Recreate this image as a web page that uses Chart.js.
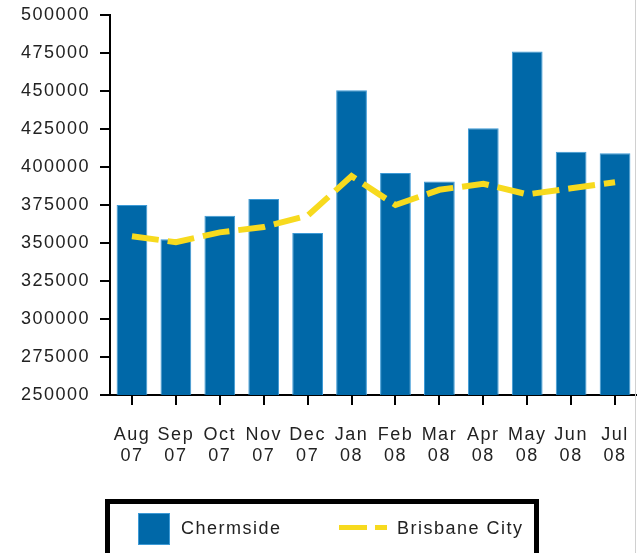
<!DOCTYPE html>
<html>
<head>
<meta charset="utf-8">
<script src="https://cdn.jsdelivr.net/npm/chart.js@4"></script>
<style>
  html, body { margin: 0; padding: 0; background: #fff; }
  #wrap { position: relative; width: 637px; height: 553px; overflow: hidden; }
  #c { position: absolute; left: 0; top: 0; }
  #rightline { position: absolute; left: 635px; top: 0; width: 1px; height: 553px; background: #d0d0d0; }
  #legend { position: absolute; left: 105px; top: 499px; width: 424px; height: 60px; border: 5px solid #000;
            font-family: "Liberation Sans", Arial, sans-serif; font-size: 18px; color: #222; letter-spacing: 1.5px; }
  .sw { position: absolute; }
  .lt { position: absolute; top: 14px; line-height: 20px; }
</style>
</head>
<body>
<div id="wrap">
  <canvas id="c" width="637" height="553"></canvas>
  <div id="rightline"></div>
  <div id="legend">
    <div class="sw" style="left:28px;top:9px;width:30px;height:30px;background:#0068a8;border:1px solid #3d9ad6;"></div>
    <div class="lt" style="left:71px;">Chermside</div>
    <div class="sw" style="left:229px;top:21px;width:28px;height:5px;background:#f7da1e;"></div>
    <div class="sw" style="left:265px;top:21px;width:12px;height:5px;background:#f7da1e;"></div>
    <div class="lt" style="left:287px;">Brisbane City</div>
  </div>
</div>
<script>
const categories = [["Aug","07"],["Sep","07"],["Oct","07"],["Nov","07"],["Dec","07"],["Jan","08"],
                    ["Feb","08"],["Mar","08"],["Apr","08"],["May","08"],["Jun","08"],["Jul","08"]];
const chermside = [375000, 352500, 368000, 379000, 356500, 450500, 396000, 390500, 425500, 476000, 410000, 409000];
const brisbaneCity = [354500, 350500, 357000, 360500, 368000, 394000, 375000, 385000, 389000, 382000, 386000, 390000];
const yMin = 250000, yMax = 500000, yStep = 25000;

const spacingPlugin = {
  id: 'spacing',
  beforeDraw(chart) { chart.ctx.letterSpacing = '1.5px'; }
};

new Chart(document.getElementById('c'), {
  type: 'bar',
  data: {
    labels: categories,
    datasets: [
      {
        type: 'line',
        label: 'Brisbane City',
        data: brisbaneCity,
        borderColor: '#f7da1e',
        borderWidth: 6,
        borderDash: [27, 9],
        borderCapStyle: 'butt',
        tension: 0,
        pointRadius: 0,
        fill: false,
        order: 1
      },
      {
        type: 'bar',
        label: 'Chermside',
        data: chermside,
        backgroundColor: '#0068a8',
        borderColor: '#3d9ad6',
        borderWidth: 1,
        categoryPercentage: 1,
        barPercentage: 0.7,
        order: 2
      }
    ]
  },
  options: {
    responsive: false,
    animation: false,
    layout: { padding: { top: 15, left: 0, right: 0, bottom: 0 } },
    plugins: { legend: { display: false }, tooltip: { enabled: false } },
    scales: {
      x: {
        grid: { display: true, drawOnChartArea: false, offset: false, tickLength: 10, color: '#000', lineWidth: 2 },
        border: { display: true, color: '#000', width: 2 },
        ticks: { color: '#222', font: { family: 'Liberation Sans', size: 18 }, padding: 19, maxRotation: 0, autoSkip: false },
        afterFit(scale) { scale.height = 158; scale.paddingLeft = 0; scale.paddingRight = 0; }
      },
      y: {
        min: yMin, max: yMax,
        grid: { display: true, drawOnChartArea: false, tickLength: 10, color: '#000', lineWidth: 2 },
        border: { display: true, color: '#000', width: 2 },
        ticks: { stepSize: yStep, color: '#222', font: { family: 'Liberation Sans', size: 18 }, padding: 10,
                 callback: v => String(v) },
        afterFit(scale) { scale.width = 110; scale.paddingTop = 0; scale.paddingBottom = 0; }
      }
    }
  },
  plugins: [spacingPlugin]
});
</script>
</body>
</html>
